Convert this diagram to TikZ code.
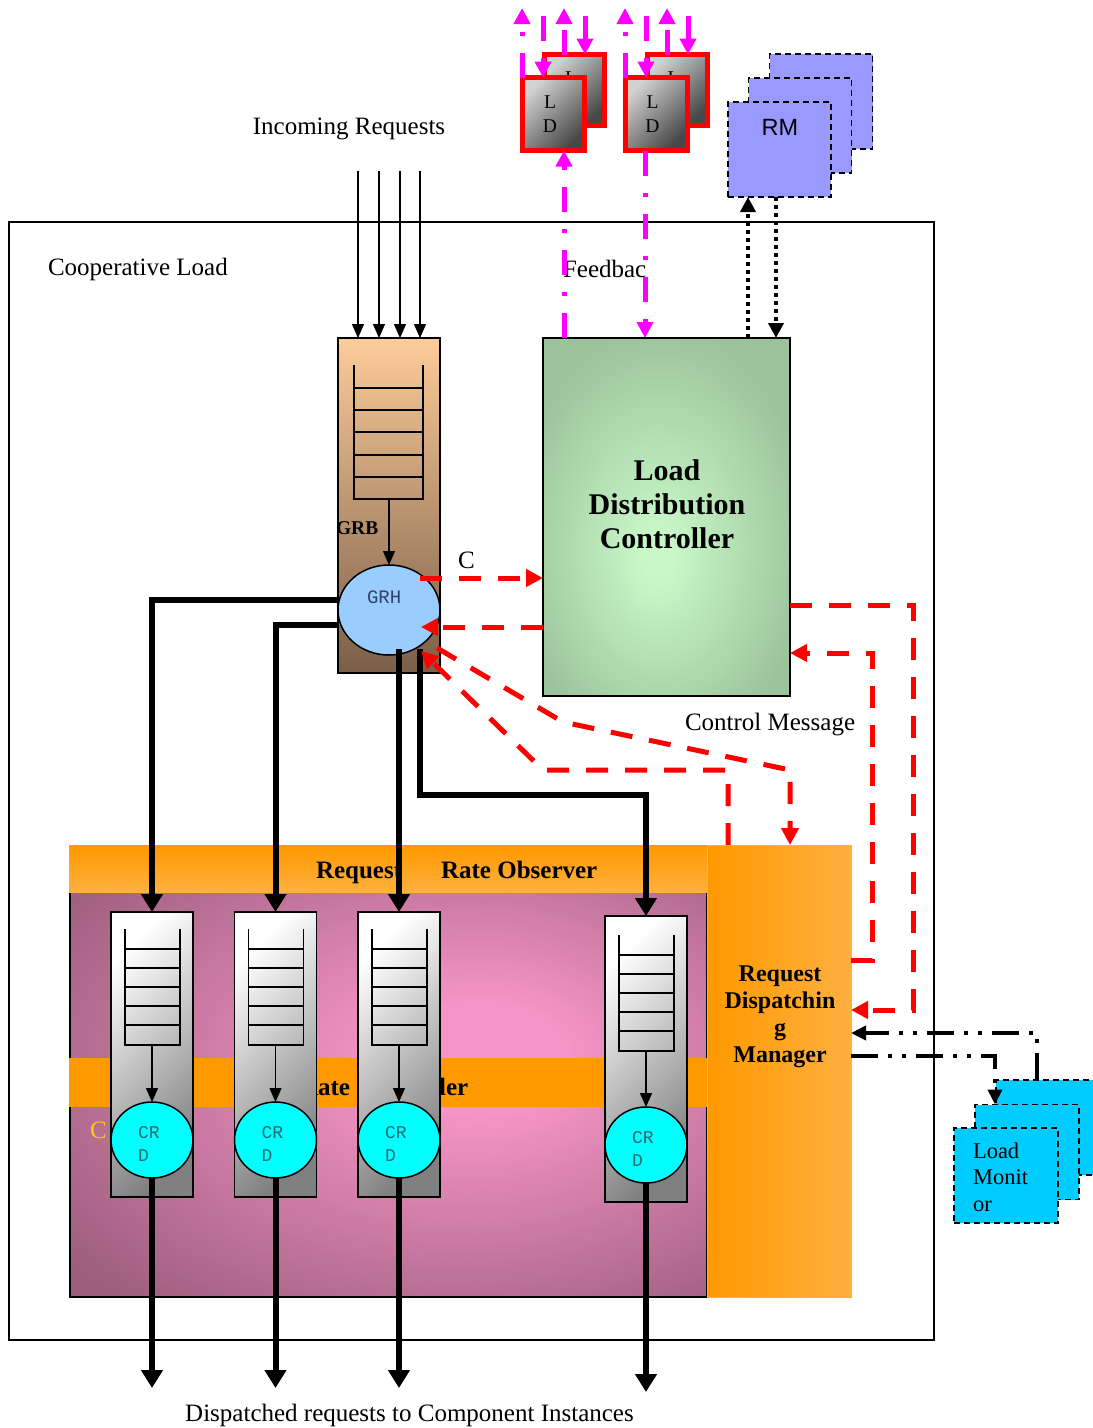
\documentclass[tikz,border=0pt]{standalone}
\usepackage{fontspec}
\setmainfont{Liberation Serif}
\newfontfamily\rmsansfont{Liberation Sans}
\newfontfamily\crdmonofont{Liberation Mono}
\usetikzlibrary{arrows.meta,shapes.geometric}
\definecolor{peach}{HTML}{FDCC99}
\definecolor{brownb}{HTML}{7A5E48}
\definecolor{grhblue}{HTML}{99CCFF}
\definecolor{ldcin}{HTML}{C8F8C8}
\definecolor{ldcout}{HTML}{9CC39C}
\definecolor{orA}{HTML}{FF9900}
\definecolor{orB}{HTML}{FFB040}
\definecolor{pinkc}{HTML}{F594C6}
\definecolor{purpc}{HTML}{9A5C7B}
\definecolor{rmblue}{HTML}{9999FF}
\definecolor{lmcyan}{HTML}{00CCFF}
\definecolor{crdcyan}{HTML}{00FFFF}
\definecolor{magen}{HTML}{FF00FF}
\definecolor{ylw}{HTML}{FFCC00}
\definecolor{grhtxt}{HTML}{334466}
\definecolor{crdtxt}{HTML}{2A6A70}
\pgfdeclareradialshading{ldcshade}{\pgfpoint{-2bp}{-6bp}}{color(0bp)=(ldcin); color(3bp)=(ldcin); color(30bp)=(ldcout); color(70bp)=(ldcout)}
\pgfdeclareradialshading{pinkshade}{\pgfpoint{8bp}{5bp}}{color(0bp)=(pinkc); color(7bp)=(pinkc); color(38bp)=(purpc); color(70bp)=(purpc)}
\begin{document}
\begin{tikzpicture}[x=1pt,y=-1pt,
  every node/.style={inner sep=0pt, outer sep=0pt},
  txt/.style={font=\fontsize{25pt}{30pt}\selectfont},
  btxt/.style={font=\bfseries\fontsize{25pt}{30pt}\selectfont},
  thinarr/.style={line width=1.3pt, -{Triangle[length=14pt,width=12pt]}},
  thickarr/.style={line width=6pt, -{Triangle[length=18pt,width=21pt]}},
  redarr/.style={draw=red, line width=5pt, dash pattern=on 22pt off 17pt, -{Triangle[length=17pt,width=17pt]}},
  magarr/.style={draw=magen, line width=5pt, dash pattern=on 25pt off 17pt on 4pt off 17pt, -{Triangle[length=16pt,width=16pt]}},
  dotarr/.style={line width=4pt, dash pattern=on 4pt off 4pt, -{Triangle[length=15pt,width=15pt]}},
  ddarr/.style={line width=4pt, dash pattern=on 27pt off 10pt on 4pt off 10pt on 4pt off 10pt, -{Triangle[length=15pt,width=14pt]}},
  ladder/.style={line width=1.5pt},
  qbox/.style={draw, line width=1.5pt, top color=white, bottom color=gray, shading angle=45},
  crd/.style={ellipse, draw, line width=1.5pt, fill=crdcyan, minimum width=82pt, minimum height=76pt},
  crdlbl/.style={font=\crdmonofont\fontsize{18pt}{23pt}\selectfont, text=crdtxt, align=left, anchor=base west},
  ldbox/.style={draw=red, line width=5pt, top color=gray!35, bottom color=black!72, shading angle=45},
  ldlbl/.style={font=\fontsize{19.5pt}{24pt}\selectfont, align=center, anchor=base},
  rmbox/.style={draw, line width=1.5pt, dash pattern=on 6pt off 4pt, fill=rmblue, minimum width=103pt, minimum height=95pt},
  lmbox/.style={draw, line width=1.5pt, dash pattern=on 6pt off 4pt, fill=lmcyan, minimum width=104pt, minimum height=95pt}
]
\useasboundingbox (0,0) rectangle (1093,1428);
\fill[white] (0,0) rectangle (1093,1428);

% outer container
\node[draw, line width=1.3pt, minimum width=925pt, minimum height=1118pt] (outer) at (471.5,781) {};

% plain labels
\node[txt, anchor=base] (inreq) at (349,134) {Incoming Requests};
\node[txt, anchor=base west] (coop) at (48,275) {Cooperative Load};
\node[txt, anchor=base west] (fbk) at (563,277) {Feedbac};
\node[txt, anchor=base west] (ctrl) at (685,730) {Control Message};
\node[txt, anchor=base] (disp) at (409.5,1421) {Dispatched requests to Component Instances};

% component request dispatcher area
\node[draw, line width=1.3pt, shading=pinkshade, minimum width=637pt, minimum height=405pt] (crm) at (388.5,1094.5) {};
\node[top color=orA, bottom color=orB, minimum width=638pt, minimum height=47pt] (rro) at (388,868.5) {};
\node[fill=orA, minimum width=638pt, minimum height=49pt] (rrc) at (388,1082.5) {};
\node[left color=orA, right color=orB, draw=orB, line width=1pt, minimum width=144pt, minimum height=452pt] (rdm) at (779,1071) {};
\node[btxt, anchor=base west] (rrot) at (316,878) {Request\hspace{39pt}Rate Observer};
\node[btxt, anchor=base west] (rrct) at (300,1095) {Rate Controller};
\node[font=\bfseries\fontsize{24pt}{26.7pt}\selectfont, align=center, anchor=base] (rdmt) at (780,1062) {Request\\Dispatchin\\g\\Manager};
\node[txt, text=ylw, anchor=base west] (yc) at (90,1138) {C};

% queues
\foreach \n/\cx in {1/152,2/275.5,3/399} {
  \node[qbox, minimum width=82pt, minimum height=285pt] (q\n) at (\cx,1054.5) {};
}
\node[qbox, minimum width=82pt, minimum height=286pt] (q4) at (646,1059) {};
\foreach \cx/\yt in {152/929,275.5/929,399/929,646/935} {
  \draw[ladder] (\cx-27,\yt) -- (\cx-27,\yt+116) -- (\cx+28,\yt+116) -- (\cx+28,\yt);
  \foreach \d in {20,39,58,77,96} \draw[ladder] (\cx-27,\yt+\d) -- (\cx+28,\yt+\d);
}
\node[crd] (crd1) at (152,1140) {};
\node[crd] (crd2) at (275.5,1140) {};
\node[crd] (crd3) at (399,1140) {};
\node[crd] (crd4) at (646,1145) {};
\foreach \n/\cx/\yb in {1/152/1045,2/275.5/1045,3/399/1045,4/646/1051} {
  \coordinate (lb\n) at (\cx,\yb);
  \draw[thinarr] (lb\n) -- (crd\n.north);
}
\node[crdlbl] (crdl1) at (138,1161) {CR\\D};
\node[crdlbl] (crdl2) at (261.5,1161) {CR\\D};
\node[crdlbl] (crdl3) at (385,1161) {CR\\D};
\node[crdlbl] (crdl4) at (632,1166) {CR\\D};
\coordinate (o1) at (152,1388);
\coordinate (o2) at (275.5,1388);
\coordinate (o3) at (399,1388);
\coordinate (o4) at (646,1392);
\foreach \n in {1,2,3,4} \draw[thickarr] (crd\n.south) -- (o\n);

% global request buffer / handler
\node[draw, line width=1.3pt, top color=peach, bottom color=brownb, minimum width=102pt, minimum height=335pt] (grb) at (389,505.5) {};
\draw[ladder] (354,365) -- (354,499) -- (423,499) -- (423,365);
\foreach \y in {388,410,432,455,477} \draw[ladder] (354,\y) -- (423,\y);
\node[font=\bfseries\fontsize{19.5pt}{23pt}\selectfont, anchor=base west] (grbl) at (336,534) {GRB};
\node[ellipse, draw, line width=1.5pt, fill=grhblue, minimum width=102pt, minimum height=90pt] (grh) at (389,610) {};
\coordinate (gq) at (389,499);
\draw[thinarr] (gq) -- (grh.north);
\node[font=\crdmonofont\fontsize{19pt}{23pt}\selectfont, text=grhtxt, anchor=base west] (grht) at (367,603) {GRH};

% incoming requests
\foreach \x [count=\i] in {358,379,400,420} {
  \coordinate (in\i) at (\x,171);
  \draw[thinarr] (in\i) -- (in\i |- grb.north);
}

% load distribution controller
\node[draw, line width=1.3pt, shading=ldcshade, minimum width=247pt, minimum height=358pt] (ldc) at (666.5,517) {};
\node[font=\bfseries\fontsize{30pt}{34pt}\selectfont, align=center, anchor=base] (ldct) at (667,548) {Load\\Distribution\\Controller};

% thick dispatch lines
\coordinate (k1) at (338,600);
\coordinate (k2) at (338,625);
\coordinate (k3) at (399,649);
\coordinate (k4) at (420,649);
\coordinate (k4b) at (646,795);
\draw[thickarr] (k1) -| (q1.north);
\draw[thickarr] (k2) -| (q2.north);
\draw[thickarr] (k3) -- (q3.north);
\draw[thickarr] (k4) |- (k4b) -- (q4.north);

% red control messages
\coordinate (c1) at (420,578);
\coordinate (c2) at (421,627);
\draw[redarr] (c1) -- (c1 -| ldc.west);
\node[txt, anchor=base west] (clbl) at (458,568) {C};
\draw[redarr] (c2 -| ldc.west) -- (c2);
\coordinate (c3a) at (913,605);
\coordinate (c3b) at (913,1010);
\draw[redarr] (c3a -| ldc.east) -- (c3a) -- (c3b) -- (c3b -| rdm.east);
\coordinate (c4a) at (872,960);
\coordinate (c4b) at (872,653);
\draw[redarr] (c4a -| rdm.east) -- (c4a) -- (c4b) -- (c4b -| ldc.east);
\coordinate (la0) at (437,648);
\coordinate (la1) at (790,770);
\draw[redarr] (la0) -- (563,722) -- (la1) -- (la1 |- rdm.north);
\coordinate (lb0) at (728,770);
\coordinate (lbe) at (421,651);
\draw[redarr] (lb0 |- rdm.north) -- (lb0) -- (543,770) -- (lbe);

% load dispatchers (top)
\node[ldbox, minimum width=60pt, minimum height=71pt] (ld1b) at (574.5,90) {};
\node[ldlbl] (ld1bt) at (571,108) {L\\D};
\node[ldbox, minimum width=62pt, minimum height=73pt] (ld1f) at (553.5,114) {};
\node[ldlbl] (ld1ft) at (550,132) {L\\D};
\node[ldbox, minimum width=60pt, minimum height=71pt] (ld2b) at (677,90) {};
\node[ldlbl] (ld2bt) at (673.5,108) {L\\D};
\node[ldbox, minimum width=62pt, minimum height=73pt] (ld2f) at (656,114) {};
\node[ldlbl] (ld2ft) at (652.5,132) {L\\D};

\coordinate (t1) at (522,8);
\coordinate (t2) at (543,16);
\coordinate (t3) at (564,8);
\coordinate (t4) at (585,16);
\draw[magarr] (t1 |- ld1f.north) -- (t1);
\draw[magarr] (t2) -- (t2 |- ld1f.north);
\draw[magarr] (t3 |- ld1b.north) -- (t3);
\draw[magarr] (t4) -- (t4 |- ld1b.north);
\coordinate (u1) at (625,8);
\coordinate (u2) at (646,16);
\coordinate (u3) at (667,8);
\coordinate (u4) at (688,16);
\draw[magarr] (u1 |- ld2f.north) -- (u1);
\draw[magarr] (u2) -- (u2 |- ld2f.north);
\draw[magarr] (u3 |- ld2b.north) -- (u3);
\draw[magarr] (u4) -- (u4 |- ld2b.north);
\coordinate (f1) at (564,338);
\coordinate (f2) at (645,338);
\draw[magarr] (f1) -- (f1 |- ld1f.south);
\draw[magarr] (f2 |- ld2f.south) -- (f2);

% resource managers
\node[rmbox] (rmb) at (821,101.5) {};
\node[rmbox] (rmm) at (800,125.5) {};
\node[rmbox] (rmf) at (779.5,149.5) {};
\node[font=\rmsansfont\fontsize{23.5pt}{28pt}\selectfont, anchor=base] (rmt) at (780,135) {RM};
\coordinate (d1) at (748,338);
\coordinate (d2) at (776,338);
\draw[dotarr] (d1) -- (d1 |- rmf.south);
\draw[dotarr] (d2 |- rmf.south) -- (d2);

% load monitors
\node[lmbox] (lmb) at (1048,1127.5) {};
\node[lmbox] (lmm) at (1027,1152) {};
\node[lmbox] (lmf) at (1006,1175.5) {};
\node[font=\fontsize{22.5pt}{26.5pt}\selectfont, align=left, anchor=base west] (lmt) at (973,1211) {Load\\Monit\\or};
\coordinate (m1) at (1037,1033);
\coordinate (m2) at (995,1056);
\draw[ddarr] (m1 |- lmb.north) -- (m1) -- (m1 -| rdm.east);
\draw[ddarr] (m2 -| rdm.east) -- (m2) -- (m2 |- lmm.north);
\end{tikzpicture}
\end{document}
